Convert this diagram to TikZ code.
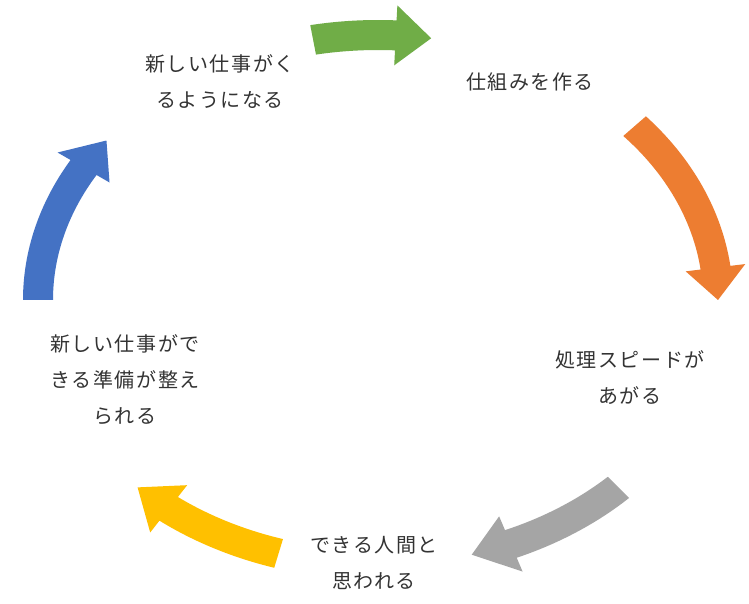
\documentclass[tikz,border=0pt]{standalone}
\usepackage{fontspec}
\newfontfamily\cjk[LetterSpace=8]{Noto Sans CJK JP}
\begin{document}
\begin{tikzpicture}[x=1pt,y=1pt,
  lbl/.style={font=\cjk\fontsize{20}{36}\selectfont,align=center,text=black!80}]
\useasboundingbox[fill=white] (0,0) rectangle (749,603);
\def\cx{378}\def\cy{303}\def\rx{340}\def\ry{265}
\def\w{15}\def\h{30}
% #1 colour, #2 start angle, #3 head base angle, #4 tip angle
\newcommand\cyclearrow[4]{%
  \fill[#1] ({\cx+(\rx+\w)*cos(#2)},{\cy+(\ry+\w)*sin(#2)})
    arc[start angle=#2,end angle=#3,x radius=\rx+\w,y radius=\ry+\w]
    -- ({\cx+(\rx+\h)*cos(#3)},{\cy+(\ry+\h)*sin(#3)})
    -- ({\cx+\rx*cos(#4)},{\cy+\ry*sin(#4)})
    -- ({\cx+(\rx-\h)*cos(#3)},{\cy+(\ry-\h)*sin(#3)})
    -- ({\cx+(\rx-\w)*cos(#3)},{\cy+(\ry-\w)*sin(#3)})
    arc[start angle=#3,end angle=#2,x radius=\rx-\w,y radius=\ry-\w]
    -- cycle;}
\definecolor{cgreen}{HTML}{70AD47}
\definecolor{corange}{HTML}{ED7D31}
\definecolor{cgray}{HTML}{A5A5A5}
\definecolor{cyellow}{HTML}{FFC000}
\definecolor{cblue}{HTML}{4472C4}
\cyclearrow{cgreen}{101}{87}{81}
\cyclearrow{corange}{41}{7}{0}
\cyclearrow{cgray}{-45}{-67}{-74}
\cyclearrow{cyellow}{-107}{-128}{-135}
\cyclearrow{cblue}{180}{150}{143}
\node[lbl] (n1) at (220,521) {新しい仕事がく\\るようになる};
\node[lbl] (n2) at (530,521) {仕組みを作る};
\node[lbl] (n3) at (630,225) {処理スピードが\\あがる};
\node[lbl] (n4) at (374,40) {できる人間と\\思われる};
\node[lbl] (n5) at (125,223) {新しい仕事がで\\きる準備が整え\\られる};
\end{tikzpicture}
\end{document}
